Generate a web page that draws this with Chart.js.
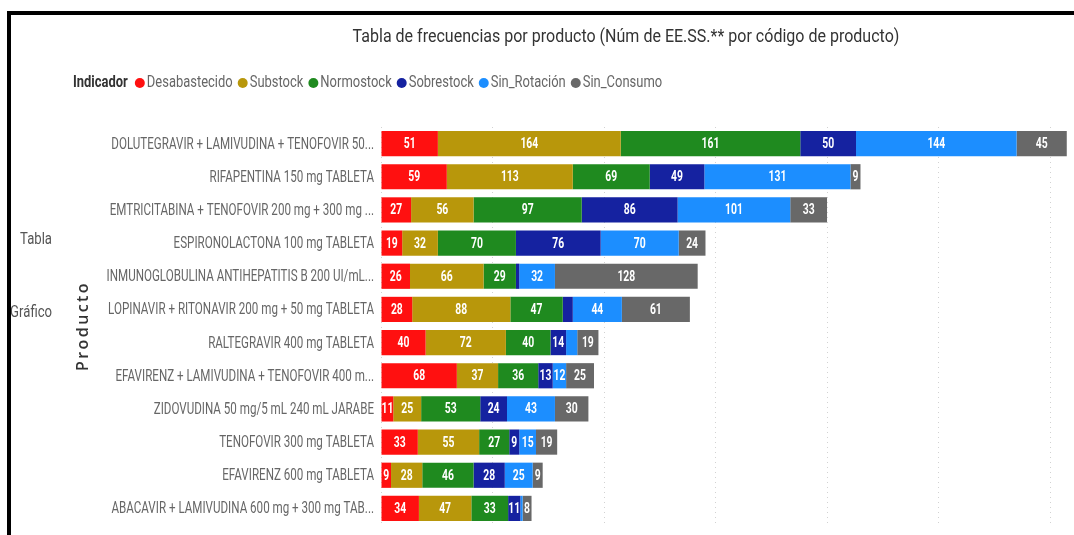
<!DOCTYPE html>
<html>
<head>
<meta charset="utf-8">
<script src="https://cdn.jsdelivr.net/npm/chart.js@4.4.1/dist/chart.umd.min.js"></script>
<style>
html,body{margin:0;padding:0;background:#fff;}
#wrap{width:1074px;height:535px;position:relative;}
</style>
</head>
<body>
<div id="wrap"><canvas id="c" width="1074" height="535"></canvas></div>
<script>
const titleText = 'Tabla de frecuencias por producto (Núm de EE.SS.** por código de producto)';
const legendTitle = 'Indicador';
const axisTitle = 'Producto';
const sideTexts = ['Tabla', 'Gráfico'];

const categories = [
  'DOLUTEGRAVIR + LAMIVUDINA + TENOFOVIR 50...',
  'RIFAPENTINA 150 mg TABLETA',
  'EMTRICITABINA + TENOFOVIR 200 mg + 300 mg ...',
  'ESPIRONOLACTONA 100 mg TABLETA',
  'INMUNOGLOBULINA ANTIHEPATITIS B 200 UI/mL...',
  'LOPINAVIR + RITONAVIR 200 mg + 50 mg TABLETA',
  'RALTEGRAVIR 400 mg TABLETA',
  'EFAVIRENZ + LAMIVUDINA + TENOFOVIR 400 m...',
  'ZIDOVUDINA 50 mg/5 mL 240 mL JARABE',
  'TENOFOVIR 300 mg TABLETA',
  'EFAVIRENZ 600 mg TABLETA',
  'ABACAVIR + LAMIVUDINA 600 mg + 300 mg TAB...'
];
const seriesNames = ['Desabastecido', 'Substock', 'Normostock', 'Sobrestock', 'Sin_Rotación', 'Sin_Consumo'];
const desabastecido = [51, 59, 27, 19, 26, 28, 40, 68, 11, 33, 9, 34];
const substock      = [164, 113, 56, 32, 66, 88, 72, 37, 25, 55, 28, 47];
const normostock    = [161, 69, 97, 70, 29, 47, 40, 36, 53, 27, 46, 33];
const sobrestock    = [50, 49, 86, 76, 3, 9, 14, 13, 24, 9, 28, 11];
const sinRotacion   = [144, 131, 101, 70, 32, 44, 10, 12, 43, 15, 25, 2];
const sinConsumo    = [45, 9, 33, 24, 128, 61, 19, 25, 30, 19, 9, 8];
// [category index, series index] of segments shown without a data label
const unlabeledPoints = [[4, 3], [5, 3], [6, 4], [11, 4]];
const xTicks = [0, 100, 200, 300, 400, 500, 600];

const colors = ['#FF1010', '#B8970B', '#1F8A1F', '#1522A0', '#1C8EFF', '#686868'];
const allSeries = [desabastecido, substock, normostock, sobrestock, sinRotacion, sinConsumo];

const FONT = 'Roboto, "DejaVu Sans", sans-serif';

function condText(ctx, text, x, y, align, sx) {
  ctx.save();
  ctx.translate(x, y);
  ctx.scale(sx, 1);
  ctx.textAlign = align;
  ctx.fillText(text, 0, 0);
  ctx.restore();
}

const decorPlugin = {
  id: 'decor',
  afterDraw(chart) {
    const ctx = chart.ctx;
    ctx.save();
    ctx.textBaseline = 'middle';
    // title
    ctx.fillStyle = '#333';
    ctx.font = '18px ' + FONT;
    condText(ctx, titleText, 626, 37, 'center', 0.89);
    // legend
    let x = 73;
    const ly = 83;
    const lsx = 0.81;
    ctx.font = 'bold 16px ' + FONT;
    ctx.fillStyle = '#333';
    condText(ctx, legendTitle, x, ly, 'left', lsx);
    x += ctx.measureText(legendTitle).width * lsx + 7;
    ctx.font = '16px ' + FONT;
    chart.data.datasets.forEach(ds => {
      ctx.fillStyle = ds.backgroundColor;
      ctx.beginPath();
      ctx.arc(x + 5, ly, 5, 0, Math.PI * 2);
      ctx.fill();
      x += 12;
      ctx.fillStyle = '#666';
      condText(ctx, ds.label, x, ly, 'left', lsx);
      x += ctx.measureText(ds.label).width * lsx + 5;
    });
    // category labels
    const ys = chart.scales.y;
    ctx.font = '16px ' + FONT;
    ctx.fillStyle = '#666';
    categories.forEach((c, i) => {
      condText(ctx, c, 374, ys.getPixelForValue(i) + 1, 'right', 0.725);
    });
    // side texts
    ctx.fillStyle = '#555';
    ctx.font = '16px ' + FONT;
    condText(ctx, sideTexts[0], 52, 240, 'right', 0.82);
    condText(ctx, sideTexts[1], 52, 313, 'right', 0.82);
    // axis title
    ctx.save();
    ctx.translate(83, 326);
    ctx.rotate(-Math.PI / 2);
    ctx.textAlign = 'center';
    ctx.fillStyle = '#333';
    ctx.font = '600 16px "Open Sans", sans-serif';
    try { ctx.letterSpacing = '2.4px'; } catch (e) {}
    ctx.fillText(axisTitle, 0, 0);
    ctx.restore();
    // frame
    ctx.fillStyle = '#000';
    ctx.fillRect(7, 11, 1067, 4);
    ctx.fillRect(7, 11, 4, 524);
    ctx.restore();
  }
};

const labelPlugin = {
  id: 'segLabels',
  afterDatasetsDraw(chart) {
    const ctx = chart.ctx;
    ctx.save();
    ctx.font = 'bold 14px ' + FONT;
    ctx.fillStyle = '#fff';
    ctx.textBaseline = 'middle';
    chart.data.datasets.forEach((ds, si) => {
      const meta = chart.getDatasetMeta(si);
      meta.data.forEach((el, ci) => {
        if (unlabeledPoints.some(p => p[0] === ci && p[1] === si)) return;
        const v = ds.data[ci];
        const cx = (el.x + el.base) / 2;
        condText(ctx, String(v), cx, el.y + 1, 'center', 0.74);
      });
    });
    ctx.restore();
  }
};

new Chart(document.getElementById('c'), {
  type: 'bar',
  data: {
    labels: categories,
    datasets: allSeries.map((d, i) => ({
      label: seriesNames[i],
      data: d,
      backgroundColor: colors[i],
      borderWidth: 0,
      barPercentage: 0.76,
      categoryPercentage: 1.0
    }))
  },
  options: {
    indexAxis: 'y',
    responsive: false,
    animation: false,
    devicePixelRatio: 1,
    layout: { padding: { top: 127, right: 5, bottom: 10, left: 0 } },
    plugins: {
      legend: { display: false },
      title: { display: false },
      tooltip: { enabled: false }
    },
    scales: {
      x: {
        stacked: true,
        min: 0,
        max: 617,
        afterBuildTicks(scale) { scale.ticks = xTicks.map(v => ({ value: v })); },
        ticks: { display: false },
        grid: { color: '#d2d2d2', drawTicks: false, lineWidth: 1 },
        border: { display: false, dash: [1, 4] }
      },
      y: {
        stacked: true,
        afterFit(scale) { scale.width = 381; },
        grid: { display: false, drawTicks: false },
        border: { display: false },
        ticks: { display: false }
      }
    }
  },
  plugins: [labelPlugin, decorPlugin]
});
</script>
</body>
</html>
